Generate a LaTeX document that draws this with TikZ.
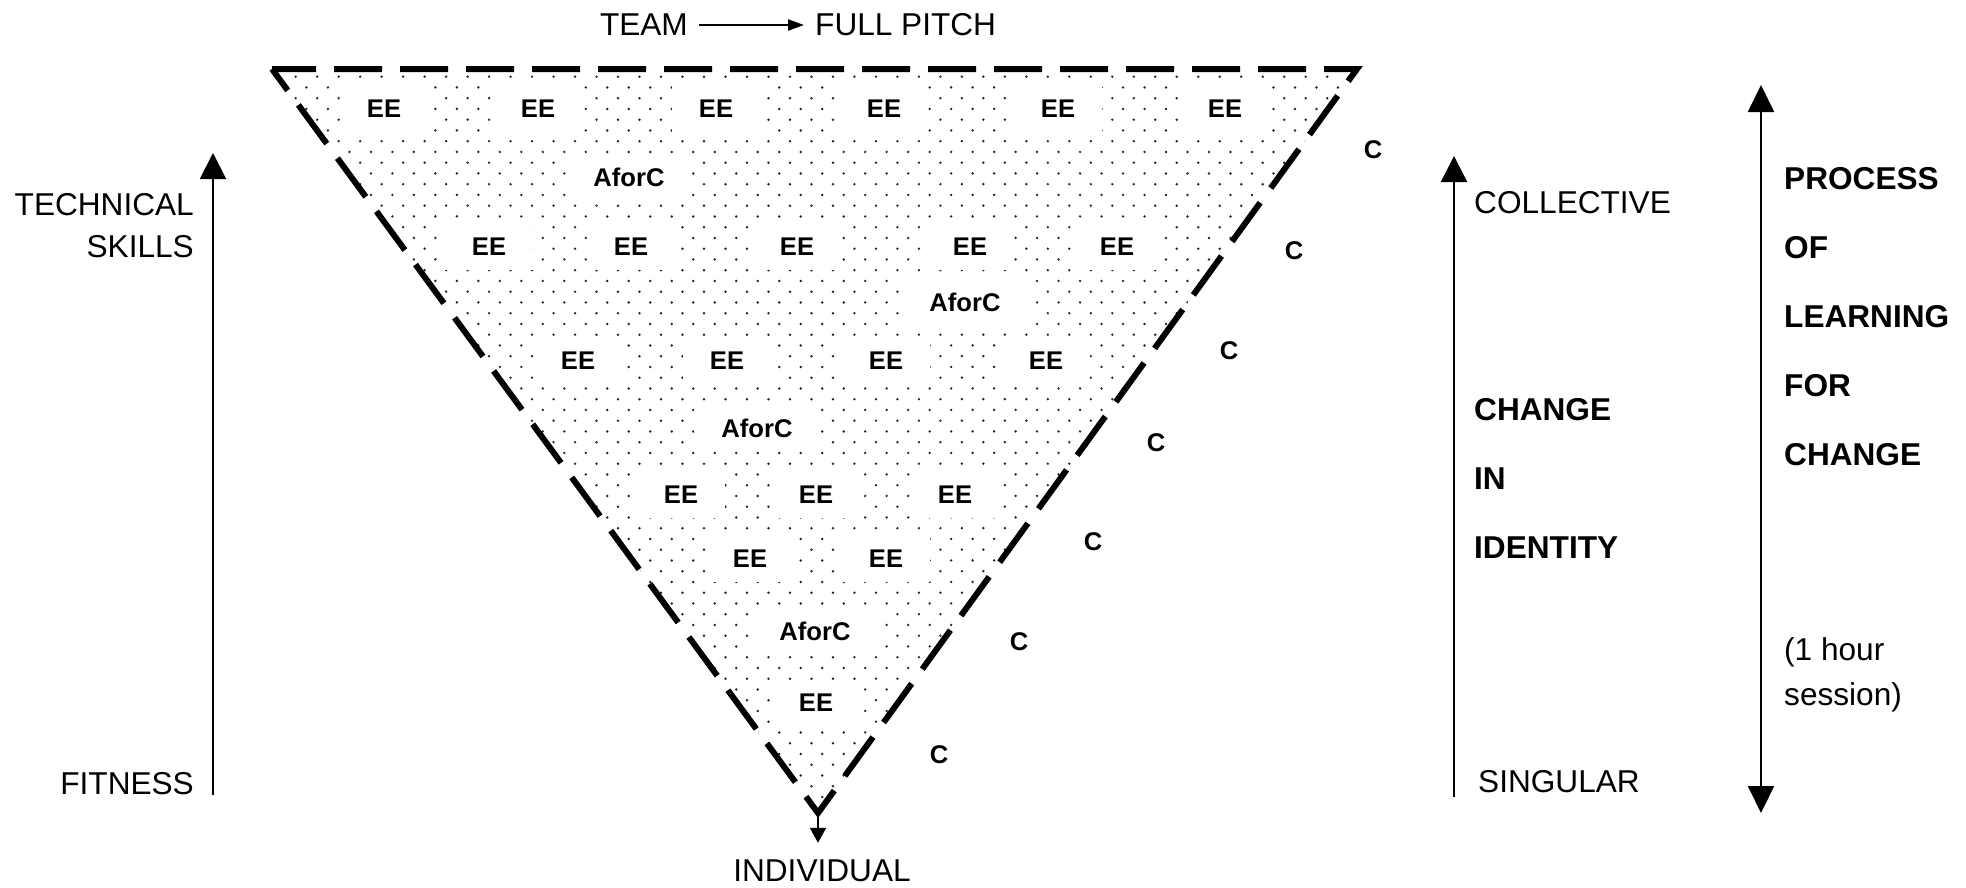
\documentclass[tikz,border=0pt]{standalone}
\usepackage{fontspec}
\setmainfont{Liberation Sans}
\usetikzlibrary{arrows.meta}

\begin{document}
\begin{tikzpicture}[x=1pt,y=-1pt,
  txt/.style={font=\fontsize{31.6}{38}\selectfont, inner sep=0pt},
  bold/.style={font=\bfseries\fontsize{31.6}{69}\selectfont, inner sep=0pt, align=left},
  ee/.style={font=\bfseries\fontsize{25.6}{30}\selectfont, fill=white, inner xsep=27pt, minimum height=46pt},
  cc/.style={font=\bfseries\fontsize{25.6}{30}\selectfont, inner sep=0pt},
  axis/.style={line width=2pt, -{Triangle[width=26pt,length=26pt]}}]
  \useasboundingbox (0,0) rectangle (1966,887);

  % the triangle and its dots
  \coordinate (tl) at (272,69);
  \coordinate (tr) at (1357,69);
  \coordinate (apex) at (818,813);
  \begin{scope}
    \clip (tl) -- (tr) -- (apex) -- cycle;
    \foreach \r in {0,...,68}
      \foreach \c in {0,...,50}
        \fill[black!85] ({274.2+\c*21.49+mod(\r,2)*10.745},{76.7+\r*10.75}) circle (1.35pt);
  \end{scope}

  \foreach \x/\y [count=\i] in {384/109,538/109,716/109,884/109,1058/109,1225/109,
      489/247,631/247,797/247,970/247,1117/247,
      578/361,727/361,886/361,1046/361,
      681/495,816/495,955/495,
      750/559,886/559,
      816/703}
    \node[ee] (ee\i) at (\x,\y) {EE};
  \foreach \x/\y [count=\i] in {629/177,965/302,757/428,815/631}
    \node[ee] (af\i) at (\x,\y) {AforC};
  \foreach \x/\y [count=\i] in {1373/150,1294/251,1229/351,1156/443,1093/542,1019/642,939/755}
    \node[cc] (c\i) at (\x,\y) {C};

  \draw[line width=6pt, dash pattern=on 48pt off 18pt, dash phase=4pt] (tl) -- (tr) -- (apex) -- cycle;

  % top and bottom
  \node[txt, inner xsep=11pt, anchor=east] (team) at (699,25) {TEAM};
  \node[txt, inner xsep=11pt, anchor=west] (pitch) at (804,25) {FULL PITCH};
  \draw[line width=2pt, -{Triangle[width=11pt,length=16pt]}] (team) -- (pitch);
  \node[txt, inner ysep=17pt] (indiv) at (822,871) {INDIVIDUAL};
  \draw[line width=2pt, -{Triangle[width=16pt,length=15pt]}] (apex) -- (apex |- indiv.north);

  % left axis
  \node[txt, align=right, anchor=north east, font=\fontsize{31.6}{42}\selectfont] (tech) at (194,193) {TECHNICAL\\SKILLS};
  \node[txt, anchor=east] (fit) at (194,784) {FITNESS};
  \coordinate (lbot) at (213,795);
  \coordinate (ltop) at (213,153);
  \draw[axis] (lbot) -- (ltop);

  % right axes
  \node[txt, anchor=west] (coll) at (1474,203) {COLLECTIVE};
  \node[txt, anchor=west] (sing) at (1478,782) {SINGULAR};
  \node[bold, anchor=north west] (ident) at (1474,398) {CHANGE\\IN\\IDENTITY};
  \coordinate (rbot) at (1454,797);
  \coordinate (rtop) at (1454,156);
  \draw[axis] (rbot) -- (rtop);

  \coordinate (ptop) at (1761,85);
  \coordinate (pbot) at (1761,813);
  \draw[line width=2pt, {Triangle[width=26pt,length=27pt]}-{Triangle[width=26pt,length=27pt]}] (ptop) -- (pbot);
  \node[bold, anchor=north west] (proc) at (1784,167) {PROCESS\\OF\\LEARNING\\FOR\\CHANGE};
  \node[txt, align=left, anchor=north west, font=\fontsize{31.6}{45}\selectfont] (hour) at (1784,637) {(1 hour\\session)};
\end{tikzpicture}
\end{document}
